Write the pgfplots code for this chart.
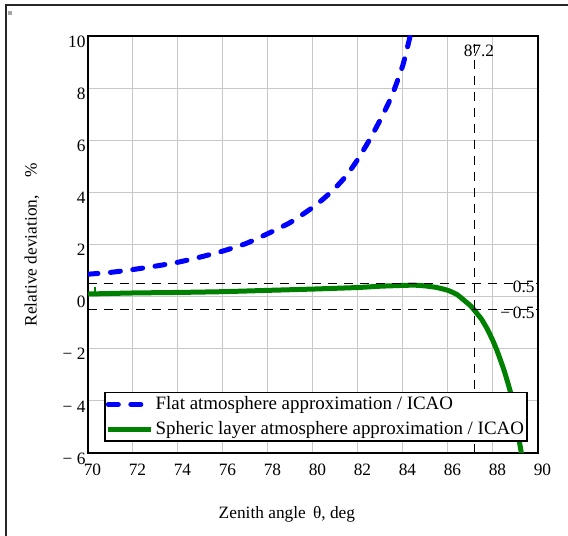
\documentclass[border=0pt]{standalone}
\usepackage{fontspec}
\setmainfont{Liberation Serif}
\usepackage{pgfplots}
\pgfplotsset{compat=1.18}
\definecolor{mgreen}{RGB}{0,128,0}
\definecolor{mblue}{RGB}{0,0,255}
\begin{document}
\begin{tikzpicture}
\useasboundingbox (0,0) rectangle (340.8pt,321.6pt);
\draw[line width=1.1pt, black!85] (3.6pt,-2pt) -- (3.6pt,318.6pt) -- (343pt,318.6pt);
\fill[black!35] (4.8pt,312.6pt) rectangle (7.2pt,315pt);
\begin{axis}[
  at={(52.8pt,49.8pt)}, anchor=south west,
  scale only axis, width=270pt, height=250.2pt,
  xmin=70, xmax=90, ymin=-6, ymax=10,
  font=\fontsize{10.4}{12.5}\selectfont,
  xtick={70,72,...,90},
  xticklabels={70,72,74,76,78,80,82,84,86,88,90},
  ytick={-6,-4,...,10},
  yticklabels={− 6,− 4,− 2,0,2,4,6,8,10},
  xticklabel style={xshift=2.7pt, yshift=-3.0pt},
  yticklabel style={xshift=2.0pt, yshift=-3.3pt},
  major tick length=0pt,
  grid=major,
  major grid style={draw=black!22, line width=0.6pt},
  axis line style={line width=0.9pt, black},
  xlabel={Zenith angle\, θ, deg},
  ylabel={Relative deviation,\hspace{1.05em}\%},
  xlabel style={at={(axis description cs:0.442,-0.146)}, anchor=center},
  ylabel style={at={(axis description cs:-0.1244,0.5)}, anchor=center},
  legend style={at={(1,0)}, anchor=south east, xshift=-6pt, yshift=6.6pt,
    draw=black, line width=0.9pt, inner xsep=0.6pt, inner ysep=1.2pt,
    font=\fontsize{11.35}{13.5}\selectfont, row sep=2.6pt,
    nodes={inner sep=1.4pt}},
  legend cell align=left,
  legend image code/.code={\draw[#1] (0pt,0pt) -- (25.5pt,0pt);},
]
\addplot[mblue, line width=3pt, line cap=round, dash pattern=on 6pt off 7.5pt, smooth, tension=0.4] coordinates {
(70,0.86) (71,0.93) (72,1.04) (73,1.17) (74,1.32) (75,1.52) (76,1.75) (77,2.03)
(78,2.42) (79,2.85) (80,3.43) (80.5,3.78) (81,4.18) (81.5,4.66) (82,5.28)
(82.5,6.0) (83,6.8) (83.5,7.7) (84,8.9) (84.4,10.3)
};
\addlegendentry{Flat atmosphere approximation / ICAO}
\addplot[mgreen, line width=3pt, smooth, tension=0.3] coordinates {
(70,0.10) (72,0.14) (74,0.16) (76,0.19) (78,0.24) (80,0.29) (82,0.35) (83,0.40)
(84,0.43) (84.5,0.44) (85,0.41) (85.5,0.35) (86,0.24) (86.4,0.08) (86.7,-0.13)
(87,-0.35) (87.2,-0.55) (87.5,-0.88) (87.75,-1.25) (88,-1.7) (88.2,-2.12)
(88.5,-2.85) (88.8,-3.75) (89.05,-5.0) (89.2,-5.7) (89.3,-6.2)
};
\addlegendentry{Spheric layer atmosphere approximation / ICAO}
\addplot[mgreen, line width=1.2pt, forget plot] coordinates {(70.3,0.12) (70.3,0.36)};
\addplot[black, line width=0.6pt, dash pattern=on 5.4pt off 4.2pt, forget plot] coordinates {(87.2,-6) (87.2,10)};
\addplot[black, line width=0.6pt, dash pattern=on 5.4pt off 4.2pt, forget plot] coordinates {(70,0.5) (90,0.5)};
\addplot[black, line width=0.6pt, dash pattern=on 5.4pt off 4.2pt, forget plot] coordinates {(70,-0.5) (90,-0.5)};
\node[anchor=north, inner sep=0pt, xshift=2.4pt, yshift=-5.4pt] at (axis cs:87.2,10) {87.2};
\node[anchor=east, inner sep=0pt, xshift=-1.8pt, yshift=-1.8pt] at (axis cs:90,0.5) {0.5};
\node[anchor=east, inner sep=0pt, xshift=-1.8pt, yshift=-1.8pt] at (axis cs:90,-0.5) {−\,0.5};
\end{axis}
\end{tikzpicture}
\end{document}
